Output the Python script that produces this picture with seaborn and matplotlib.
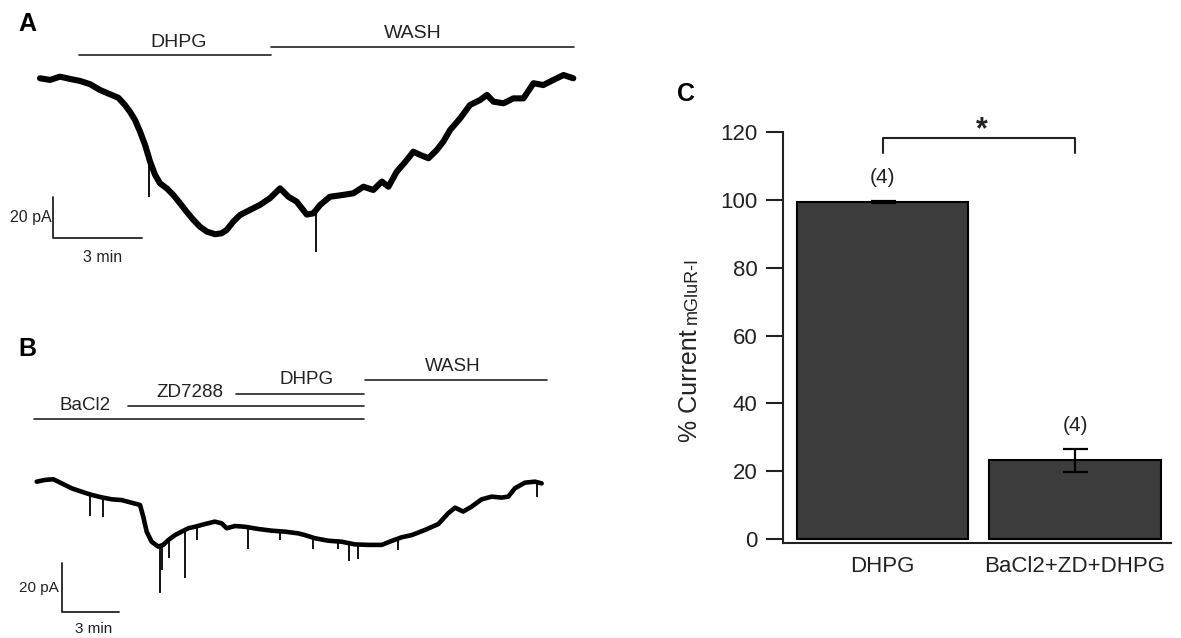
import numpy as np
import pandas as pd
import matplotlib
matplotlib.use("Agg")
import matplotlib.pyplot as plt
import seaborn as sns

sns.set_style("white")
plt.rcParams['font.family'] = ['Liberation Sans', 'DejaVu Sans']

# ---------------- Panel A: holding current trace (min, pA) ----------------
a_time = [0.00, 0.34, 0.67, 1.01, 1.35, 1.69, 2.02, 2.36, 2.64, 2.86,
          3.03, 3.20, 3.37, 3.54, 3.71, 3.88, 4.04, 4.27, 4.49, 4.72,
          4.94, 5.17, 5.39, 5.62, 5.90, 6.12, 6.29, 6.51, 6.74, 7.08,
          7.41, 7.75, 8.09, 8.37, 8.65, 8.99, 9.21, 9.44, 9.77, 10.22,
          10.56, 10.90, 11.23, 11.52, 11.74, 12.02, 12.36, 12.58, 12.81, 13.09,
          13.37, 13.59, 13.82, 14.16, 14.49, 14.83, 15.06, 15.28, 15.62, 15.95,
          16.29, 16.63, 16.96, 17.30, 17.64, 17.97]
a_current = [0.0, -0.8, 0.8, -0.3, -1.3, -2.9, -5.7, -7.8, -9.5, -13.0,
             -16.3, -20.3, -26.0, -32.5, -40.7, -47.2, -51.2, -53.7, -56.9, -61.0,
             -65.1, -69.1, -72.4, -74.8, -76.1, -75.6, -74.0, -70.0, -66.7, -64.2,
             -61.8, -58.5, -53.7, -57.8, -60.2, -66.5, -65.9, -61.8, -57.8, -56.9,
             -56.1, -52.9, -54.5, -50.4, -52.9, -45.6, -39.9, -35.8, -37.4, -39.0,
             -35.0, -30.9, -25.2, -19.5, -13.0, -10.6, -8.1, -11.4, -12.2, -9.8,
             -9.8, -2.4, -3.3, -0.8, 1.6, 0.0]
a_spike_time = [3.67, 9.30]
a_spike_top = [-38.0, -64.0]
a_spike_bottom = [-57.8, -84.6]
a_drug_labels = ["DHPG", "WASH"]
a_drug_start = [1.30, 7.79]
a_drug_end = [7.79, 18.01]
a_drug_level = [11.4, 15.2]
a_label_time = [4.67, 12.55]
a_label_level = [17.6, 21.8]

# ---------------- Panel B: holding current trace (min, pA) ----------------
b_time = [0.00, 0.44, 0.87, 1.32, 1.84, 2.37, 2.89, 3.42, 3.95, 4.47,
          5.00, 5.44, 5.61, 5.79, 6.05, 6.40, 6.66, 6.93, 7.28, 7.63,
          7.98, 8.33, 8.86, 9.38, 9.74, 10.00, 10.44, 10.96, 11.66, 12.37,
          13.07, 13.77, 14.12, 14.65, 15.35, 16.05, 16.75, 17.45, 18.16, 18.68,
          19.21, 19.74, 20.44, 21.14, 21.66, 22.02, 22.45, 22.89, 23.42, 23.95,
          24.47, 24.82, 25.17, 25.70, 26.23, 26.58]
b_current = [0.0, 0.7, 1.0, -0.7, -2.7, -4.1, -5.4, -6.4, -7.2, -7.5,
             -8.6, -9.5, -14.3, -20.4, -24.5, -26.5, -25.8, -23.8, -21.8, -20.4,
             -19.0, -18.4, -17.3, -16.3, -17.0, -19.0, -18.1, -18.4, -19.3, -20.0,
             -20.4, -21.1, -21.8, -23.1, -24.1, -24.5, -25.6, -25.8, -25.8, -24.2,
             -22.7, -21.8, -19.7, -17.3, -12.9, -10.6, -12.2, -10.2, -7.2, -6.1,
             -6.5, -6.1, -2.7, -0.4, 0.0, -0.7]
b_spike_time = [2.82, 3.47, 6.49, 6.62, 6.95, 7.79, 8.42, 11.14, 12.81,
                14.56, 15.87, 16.44, 16.89, 19.00, 26.32]
b_spike_top = [-5.3, -6.5, -26.0, -25.5, -23.5, -20.0, -18.5, -18.5, -20.2,
               -23.0, -24.2, -25.2, -25.7, -23.5, 0.0]
b_spike_bottom = [-14.0, -14.3, -45.3, -36.0, -31.0, -39.4, -23.8, -27.6, -23.8,
                  -27.6, -27.6, -32.2, -31.7, -27.9, -6.1]
b_drug_labels = ["BaCl2", "ZD7288", "DHPG", "WASH"]
b_drug_start = [-0.12, 4.82, 10.51, 17.28]
b_drug_end = [17.22, 17.22, 17.22, 26.85]
b_drug_level = [25.6, 30.8, 35.8, 41.3]
b_label_time = [2.55, 8.05, 14.19, 21.91]
b_label_level = [31.2, 36.5, 41.7, 47.1]

# scale bars
scale_time = 3      # min
scale_current = 20  # pA

# ---------------- Panel C: summary bars ----------------
c_conditions = ["DHPG", "BaCl2+ZD+DHPG"]
c_mean = [99.4, 23.2]
c_sem = [0.4, 3.3]
c_n = ["(4)", "(4)"]
c_yticks = [0, 20, 40, 60, 80, 100, 120]

W, H = 1181, 638
fig = plt.figure(figsize=(W / 100, H / 100), dpi=100)


def px_axes(x0, y0, x1, y1):
    return fig.add_axes([x0 / W, 1 - y1 / H, (x1 - x0) / W, (y1 - y0) / H])


def draw_trace(ax, t, cur, st, stop, sbot, lw, drug_labels, d0, d1, dl,
               lt, ll, lab_fs, sb_t0, sb_i0, sb_fs, sb_pad_t, min_y):
    sns.lineplot(x=t, y=cur, ax=ax, color='black', lw=lw,
                 estimator=None, sort=False)
    ax.vlines(st, sbot, stop, color='black', lw=1.3)
    for lab, a, b, lev, tx, ty in zip(drug_labels, d0, d1, dl, lt, ll):
        ax.plot([a, b], [lev, lev], color='#222222', lw=1.2)
        ax.text(tx, ty, lab, ha='center', va='center', fontsize=lab_fs,
                color='#222222')
    ax.plot([sb_t0, sb_t0, sb_t0 + scale_time],
            [sb_i0 + scale_current, sb_i0, sb_i0], color='#222222', lw=1.3)
    ax.text(sb_t0 - sb_pad_t, sb_i0 + scale_current / 2, f"{scale_current} pA",
            ha='right', va='center', fontsize=sb_fs, color='#222222')
    ax.text(sb_t0 + scale_time * 0.56, min_y, f"{scale_time} min",
            ha='center', va='center', fontsize=sb_fs, color='#222222')
    ax.set_axis_off()


# Panel A
axA = px_axes(0, 0, 600, 290)
axA.set_xlim(-1.348, 18.87)
axA.set_ylim(-103.3, 38.2)
draw_trace(axA, a_time, a_current, a_spike_time, a_spike_top, a_spike_bottom,
           4.4, a_drug_labels, a_drug_start, a_drug_end, a_drug_level,
           a_label_time, a_label_level, 14, 0.43, -77.8, 11.5, 0.05, -87.5)

# Panel B
axB = px_axes(0, 330, 600, 638)
axB.set_xlim(-1.93, 29.65)
axB.set_ylim(-63.8, 61.9)
draw_trace(axB, b_time, b_current, b_spike_time, b_spike_top, b_spike_bottom,
           3.3, b_drug_labels, b_drug_start, b_drug_end, b_drug_level,
           b_label_time, b_label_level, 13.5, 1.33, -53.2, 11, 0.15, -60.0)

# Panel C
axC = px_axes(783, 132.3, 1171.25, 543)
df = pd.DataFrame({"condition": c_conditions, "mean": c_mean})
sns.barplot(data=df, x="condition", y="mean", order=c_conditions,
            color="#3c3c3c", saturation=1, width=0.89, edgecolor="black",
            linewidth=1.5, errorbar=None, ax=axC)
axC.errorbar(range(len(c_conditions)), c_mean, yerr=c_sem, fmt='none',
             ecolor='black', elinewidth=1.6, capsize=9, capthick=1.6, zorder=3)
axC.set_xlim(-0.517, 1.5)
axC.set_ylim(-1.18, 120)
axC.set_xlabel("")
axC.set_ylabel("")
axC.set_yticks(c_yticks)
axC.set_xticks(range(len(c_conditions)))
axC.set_xticklabels(c_conditions)
axC.set_xticks([-0.5, 0.5, 1.5], minor=True)
axC.tick_params(axis='x', which='major', length=0, pad=9, labelsize=16,
                labelcolor='#222222')
axC.tick_params(axis='x', which='minor', length=13, width=1.5,
                direction='out', color='#222222')
axC.tick_params(axis='y', length=12, width=1.5, pad=6.5, labelsize=16,
                direction='out', left=True, color='#222222', labelcolor='#222222')
for s in ['top', 'right']:
    axC.spines[s].set_visible(False)
for s in ['left', 'bottom']:
    axC.spines[s].set_linewidth(1.5)
    axC.spines[s].set_color('#222222')
axC.grid(False)

for i, (m, e, n) in enumerate(zip(c_mean, c_sem, c_n)):
    axC.text(i, m + e + 7.0, n, ha='center', va='center', fontsize=15,
             color='#222222')

axC.plot([0, 0, 1, 1], [113.8, 118.2, 118.2, 113.8], color='#222222',
         lw=1.5, clip_on=False)
axC.text(0.515, 120.5, "*", ha='center', va='center', fontsize=22,
         fontweight='bold', color='#222222')

# y label: "% Current" with smaller "mGluR-I"
t1 = fig.text(697 / W, 1 - 442 / H, "% Current", rotation=90,
              rotation_mode='anchor', ha='left', va='baseline', fontsize=18,
              color='#222222')
fig.canvas.draw()
bb = t1.get_window_extent()
fig.text(697 / W, (bb.y1 + 5) / H, "mGluR-I", rotation=90,
         rotation_mode='anchor', ha='left', va='baseline', fontsize=13,
         color='#222222')

# panel letters
for lab, x, y in [("A", 27, 24), ("B", 27, 349), ("C", 686, 94)]:
    fig.text(x / W, 1 - y / H, lab, ha='center', va='center', fontsize=18,
             fontweight='bold', color='black')

fig.savefig("out.png", dpi=100)
